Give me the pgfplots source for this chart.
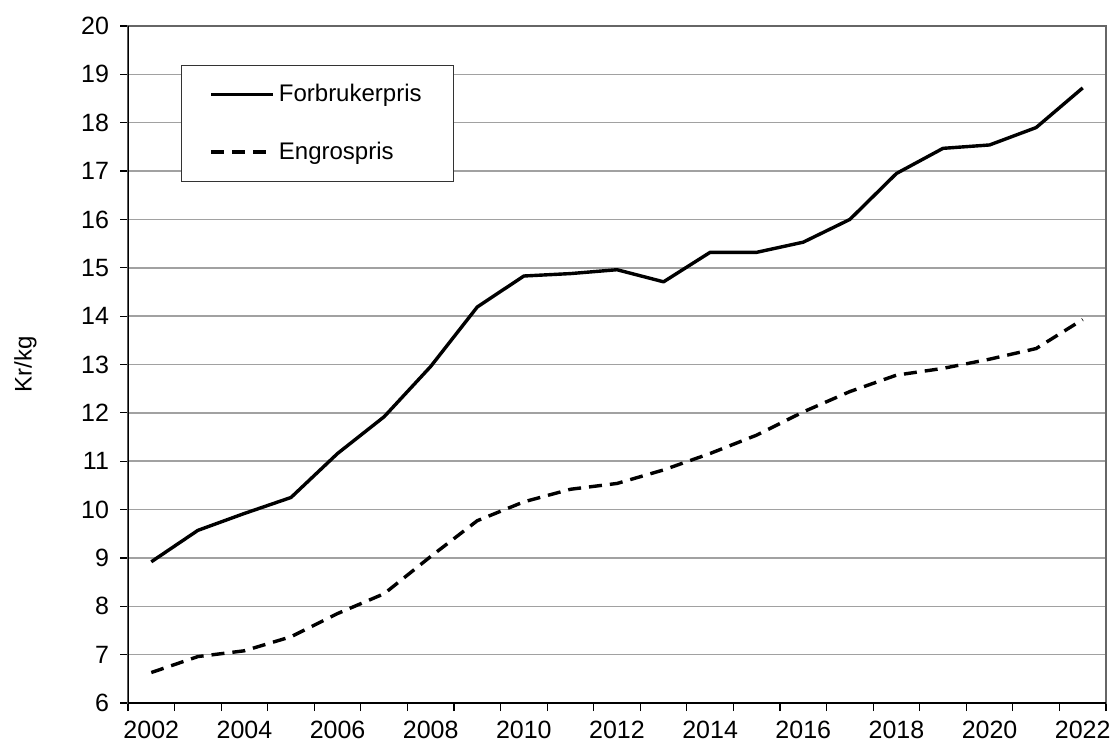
\documentclass[border=0pt]{standalone}
\usepackage{pgfplots}
\pgfplotsset{compat=1.18}
\usepackage{fontspec}
\setmainfont{Liberation Sans}
\pgfplotstableread{
year forbruker engros
2002 8.92 6.63
2003 9.57 6.96
2004 9.92 7.08
2005 10.25 7.37
2006 11.16 7.85
2007 11.92 8.26
2008 12.96 9.03
2009 14.19 9.77
2010 14.83 10.16
2011 14.88 10.42
2012 14.96 10.54
2013 14.71 10.82
2014 15.32 11.16
2015 15.32 11.54
2016 15.53 12.02
2017 16.00 12.44
2018 16.95 12.78
2019 17.47 12.92
2020 17.54 13.11
2021 17.90 13.33
2022 18.72 13.93
}\data
\begin{document}
\begin{tikzpicture}
\begin{axis}[
  at={(0,0)}, anchor=origin,
  scale only axis,
  width=489pt, height=338.5pt,
  xmin=2001.5, xmax=2022.5,
  ymin=6, ymax=20,
  xtick={2001.5,2002.5,...,2022.5},
  xticklabels={2002,,2004,,2006,,2008,,2010,,2012,,2014,,2016,,2018,,2020,,2022,},
  xticklabel style={xshift=11.643pt, yshift=-4pt, inner sep=1pt},
  ytick={6,7,...,20},
  yticklabel style={xshift=-2pt},
  tick align=outside,
  major tick length=4pt,
  tick style={black, line width=0.6pt},
  xtick pos=bottom, ytick pos=left,
  ymajorgrids,
  grid style={draw=black!37, line width=0.75pt},
  axis line style={draw=black!60, line width=0.6pt},
  /pgf/number format/assume math mode=true,
  tick label style={font=\fontsize{12.5}{14}\selectfont},
  ylabel={Kr/kg},
  every axis y label/.style={at={(axis description cs:-0.105,0.5)}, rotate=90, anchor=center, font=\fontsize{12}{14}\selectfont},
  legend style={
    at={(axis description cs:0.0542,0.9424)}, anchor=north west,
    draw=black!80, line width=0.5pt,
    font=\fontsize{12}{14}\selectfont,
    inner xsep=14pt, inner ysep=7.5pt,
    row sep=14.5pt,
    nodes={inner sep=2pt},
  },
  legend cell align=left,
  legend image code/.code={\draw[#1] (0pt,0pt) -- (31pt,0pt);},
]
\addplot[black, line width=1.7pt, line join=round] table[x=year, y=forbruker] {\data};
\addlegendentry{Forbrukerpris}
\addplot[black, line width=1.7pt, dash pattern=on 6.5pt off 4pt] table[x=year, y=engros] {\data};
\addlegendentry{Engrospris}
\draw[black, line width=1pt] (rel axis cs:0,1) -- (rel axis cs:0,0) -- (rel axis cs:1,0);
\end{axis}
\pgfresetboundingbox
\path[use as bounding box] (-64pt,-21.5pt) rectangle (493.5pt,351.5pt);
\end{tikzpicture}
\end{document}
